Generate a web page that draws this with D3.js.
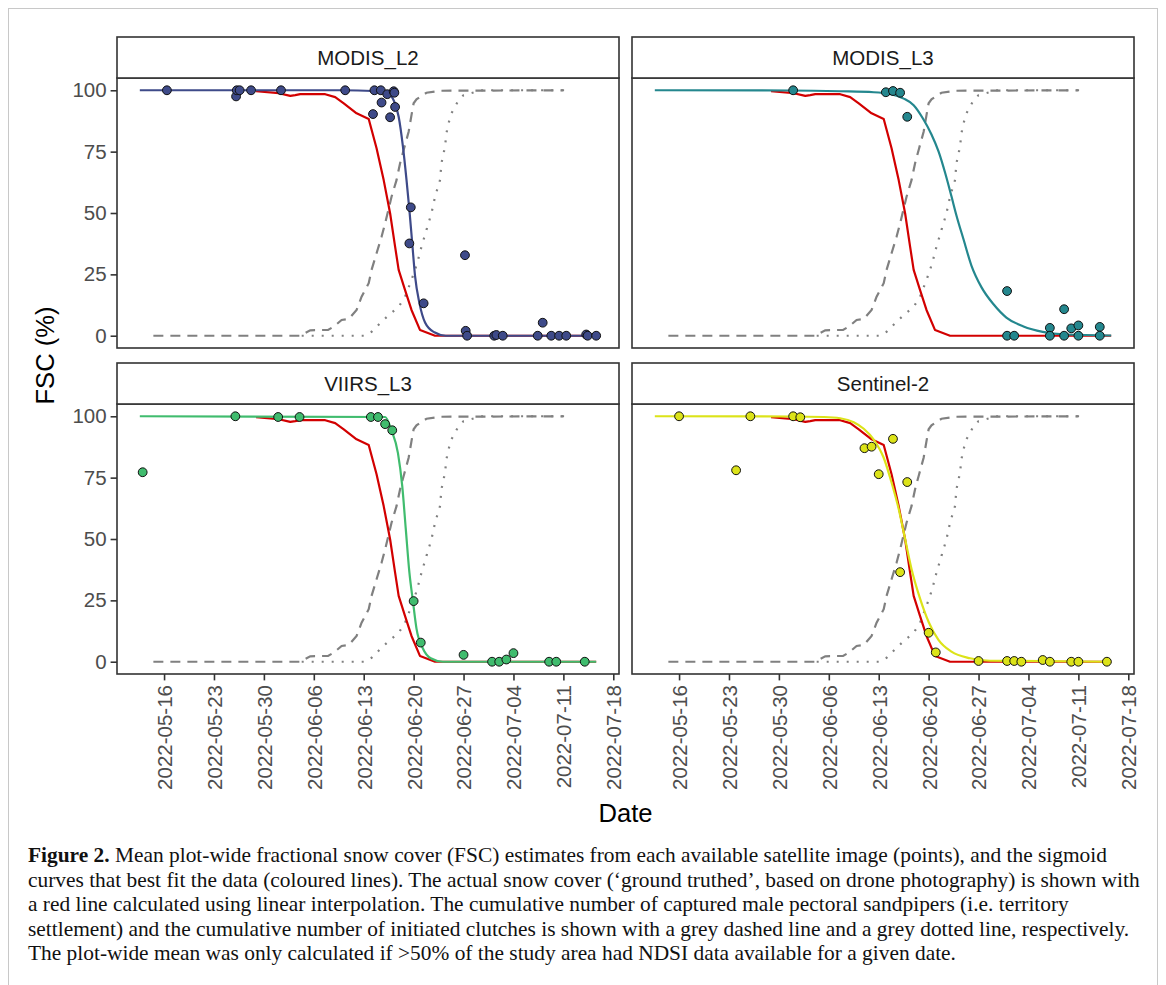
<!DOCTYPE html>
<html>
<head>
<meta charset="utf-8">
<script src="https://cdn.jsdelivr.net/npm/d3@7"></script>
<style>
  body { margin: 0; background: #fff; }
  svg { display: block; }
</style>
</head>
<body>
<svg id="chart" width="1166" height="985"></svg>
<script>
// All x values are days after 2022-05-16 (MODIS_L2 swaths carry a time of day), y values are FSC (%)
const baseDay = Date.UTC(2022, 4, 16);

const panelNames = ['MODIS_L2', 'MODIS_L3', 'VIIRS_L3', 'Sentinel-2'];
const panelColors = ['#3E4A89', '#24878E', '#40BC6E', '#DCE319'];

// satellite estimates [day, FSC]
const modisL2Points = [[0.4, 100], [10.1, 97.5], [10.2, 100], [10.6, 100], [12.2, 100], [16.4, 100], [25.4, 100],
  [29.3, 90.3], [29.5, 100], [30.4, 100], [30.5, 95], [31.3, 98.4], [31.7, 89], [32.2, 99.6], [32.3, 99],
  [32.4, 93.2], [34.4, 37.6], [34.6, 52.3], [36.4, 13.2], [42.2, 32.8], [42.3, 2], [42.5, 0], [46.3, 0],
  [46.6, 0.3], [47.5, 0], [52.4, 0], [53.1, 5.3], [54.3, 0], [55.4, 0], [56.4, 0], [59.2, 0.5], [59.4, 0], [60.6, 0]];
const modisL3Points = [[16, 100], [29, 99.2], [30, 99.7], [31, 99], [32, 89.2], [46, 18.2], [46, 0], [47, 0],
  [52, 3.2], [52, 0], [54, 10.8], [54, 0], [55, 3], [56, 4.2], [56, 0], [59, 3.6], [59, 0]];
const viirsL3Points = [[-3, 77.2], [10, 100], [16, 99.7], [19, 99.7], [29, 99.7], [30, 99.7], [31, 96.8], [32, 94.3],
  [35, 24.7], [36, 7.8], [42, 2.8], [46, 0], [47, 0], [48, 0.9], [49, 3.5], [54, 0], [55, 0], [59, 0]];
const sentinel2Points = [[0, 100], [8, 78], [10, 100], [16, 100], [17, 99.6], [26, 87], [27, 87.6], [28, 76.4],
  [30, 90.8], [31, 36.5], [32, 73.2], [35, 11.8], [36, 3.8], [42, 0.3], [46, 0.3], [47, 0.3], [48, 0],
  [51, 0.7], [52, 0], [55, 0], [56, 0], [60, 0]];

// best-fit sigmoid curves [day, FSC]
const modisL2Fit = [[-3.4, 100], [25.1, 100], [29.3, 99.7], [31.4, 98.6], [32.3, 95.3], [32.9, 89.2], [33.5, 77],
  [34.0, 63.5], [34.4, 51.4], [34.8, 37.8], [35.2, 24.3], [35.8, 13.5], [36.6, 5.4], [37.9, 1.4], [39.5, 0], [60.6, 0]];
const modisL3Fit = [[-3.4, 100], [15.6, 99.9], [22.6, 99.6], [27.3, 99.2], [29.6, 98.4], [31.5, 96.6], [32.9, 93.9],
  [34.2, 88.5], [35.4, 82], [36.4, 75], [37.3, 66.5], [38.2, 56.8], [38.9, 49], [39.9, 39.2], [41.0, 28.6],
  [42.4, 19.8], [44.1, 12.8], [45.9, 7.4], [48.3, 3.8], [51.0, 1.6], [54.3, 0.5], [60.6, 0.1]];
const viirsL3Fit = [[-3.4, 100], [31.0, 99.7], [31.9, 94.3], [32.8, 85], [33.4, 71.6], [33.9, 54], [34.4, 36.5],
  [34.9, 24.7], [35.4, 13.5], [36.3, 5.4], [37.4, 1.4], [39.1, 0], [60.6, 0]];
const sentinel2Fit = [[-3.4, 100], [15.6, 99.9], [20.3, 99.7], [22.6, 99.2], [24.5, 97.6], [25.9, 94.9], [27.3, 90.5],
  [28.7, 83.1], [29.8, 73], [30.8, 62.2], [31.7, 50], [32.6, 37.8], [33.8, 25.7], [35.0, 16.2], [36.4, 8.8],
  [38.2, 4.1], [40.8, 1.4], [43.6, 0.4], [60.6, 0]];

// drone ground truth (linear interpolation) [day, FSC]
const groundTruth = [[12.9, 99.6], [16.1, 98.8], [17.7, 97.7], [18.4, 98.0], [19.1, 98.4], [22.6, 98.4], [24.0, 97.2],
  [25.2, 94.7], [27.0, 90.6], [28.7, 88.3], [29.8, 76.4], [30.8, 63.4], [31.7, 49.9], [32.4, 36.3], [32.9, 26.8],
  [33.8, 18.6], [34.7, 10.5], [35.9, 2.3], [38.0, 0], [60.6, 0]];

// cumulative captured males (dashed) and initiated clutches (dotted), scaled 0-100 [day, %]
const malesCaptured = [[-1.5, 0], [19.0, 0], [19.5, 0.7], [20.5, 2.2], [23.0, 2.4], [23.8, 3.7], [24.9, 6.4],
  [25.9, 6.8], [27.0, 10.5], [27.7, 15.9], [28.7, 21.4], [29.1, 26.8], [29.8, 33.6], [30.5, 40.3], [31.0, 45.8],
  [31.9, 56.6], [32.6, 63.4], [33.1, 70.3], [33.6, 75.7], [34.3, 83.1], [34.7, 89.9], [35.0, 94.7], [35.4, 96.3],
  [36.8, 99], [38.9, 99.8], [56.1, 100]];
const clutchesInitiated = [[19.3, 0], [28.2, 0], [29.1, 1.6], [30.3, 5.1], [31.5, 8.4], [32.9, 11.8], [33.8, 15.9],
  [34.7, 22.7], [35.5, 29.5], [36.1, 36.3], [36.8, 43.1], [37.5, 49.9], [38.0, 56.6], [38.7, 63.4], [38.9, 70.3],
  [39.4, 77], [39.6, 82.5], [39.9, 86.6], [40.3, 90.6], [41.3, 96], [42.0, 98], [43.7, 99.3], [44.2, 100], [56.1, 100]];

const yTicks = [0, 25, 50, 75, 100];

const captionLines = [
  ['Figure 2.', ' Mean plot-wide fractional snow cover (FSC) estimates from each available satellite image (points), and the sigmoid'],
  ['', 'curves that best fit the data (coloured lines). The actual snow cover (\u2018ground truthed\u2019, based on drone photography) is shown with'],
  ['', 'a red line calculated using linear interpolation. The cumulative number of captured male pectoral sandpipers (i.e. territory'],
  ['', 'settlement) and the cumulative number of initiated clutches is shown with a grey dashed line and a grey dotted line, respectively.'],
  ['', 'The plot-wide mean was only calculated if >50% of the study area had NDSI data available for a given date.']
];

const pointSets = [modisL2Points, modisL3Points, viirsL3Points, sentinel2Points];
const fitSets = [modisL2Fit, modisL3Fit, viirsL3Fit, sentinel2Fit];

const toDate = d => new Date(baseDay + d * 864e5);

const svg = d3.select('#chart');
const sans = '"Liberation Sans", Arial, sans-serif';

// outer frame of the figure
svg.append('rect')
  .attr('x', 8.5).attr('y', 8.5)
  .attr('width', 1149).attr('height', 1000)
  .attr('fill', 'none').attr('stroke', '#c8c8c8').attr('stroke-width', 1);

const colX = [117, 632];
const rowY = [37, 363];
const panelW = 502;
const stripH = 41;
const panelH = 270;

// x range like ggplot: data extent + 5% each side
const allX = [].concat(...pointSets, ...fitSets, groundTruth, malesCaptured, clutchesInitiated).map(d => d[0]);
const [xMin, xMax] = d3.extent(allX);
const pad = (xMax - xMin) * 0.05;

const x = d3.scaleUtc()
  .domain([toDate(xMin - pad), toDate(xMax + pad)])
  .range([0, panelW]);
const y = d3.scaleLinear()
  .domain([-5, 105])
  .range([panelH, 0]);

const line = d3.line()
  .x(d => x(toDate(d[0])))
  .y(d => y(d[1]));
const smooth = d3.line()
  .x(d => x(toDate(d[0])))
  .y(d => y(d[1]))
  .curve(d3.curveMonotoneX);

panelNames.forEach((name, i) => {
  const col = i % 2, row = Math.floor(i / 2);
  const g = svg.append('g')
    .attr('transform', `translate(${colX[col]},${rowY[row] + stripH})`);

  // strip
  svg.append('rect')
    .attr('x', colX[col]).attr('y', rowY[row])
    .attr('width', panelW).attr('height', stripH)
    .attr('fill', '#fff').attr('stroke', '#333').attr('stroke-width', 1.6);
  svg.append('text')
    .attr('x', colX[col] + panelW / 2).attr('y', rowY[row] + stripH / 2)
    .attr('dy', '0.36em')
    .attr('text-anchor', 'middle')
    .attr('font-family', sans).attr('font-size', 20.5)
    .attr('fill', '#1a1a1a')
    .text(name);

  g.append('path').datum(malesCaptured)
    .attr('d', line).attr('fill', 'none')
    .attr('stroke', '#808080').attr('stroke-width', 2.2)
    .attr('stroke-dasharray', '10,7');
  g.append('path').datum(clutchesInitiated)
    .attr('d', line).attr('fill', 'none')
    .attr('stroke', '#808080').attr('stroke-width', 2.2)
    .attr('stroke-dasharray', '2,8');
  g.append('path').datum(groundTruth)
    .attr('d', line).attr('fill', 'none')
    .attr('stroke', '#D20000').attr('stroke-width', 2.2)
    .attr('stroke-linejoin', 'round');
  g.append('path').datum(fitSets[i])
    .attr('d', smooth).attr('fill', 'none')
    .attr('stroke', panelColors[i]).attr('stroke-width', 2.2);

  g.append('g').selectAll('circle')
    .data(pointSets[i])
    .join('circle')
    .attr('cx', d => x(toDate(d[0])))
    .attr('cy', d => y(d[1]))
    .attr('r', 4.4)
    .attr('fill', panelColors[i])
    .attr('stroke', '#111').attr('stroke-width', 1);

  // panel border on top
  g.append('rect')
    .attr('width', panelW).attr('height', panelH)
    .attr('fill', 'none').attr('stroke', '#333').attr('stroke-width', 1.6);

  if (col === 0) {
    const ya = g.append('g')
      .call(d3.axisLeft(y).tickValues(yTicks).tickSize(6.4).tickPadding(4));
    ya.select('.domain').remove();
    ya.selectAll('line').attr('stroke', '#333').attr('stroke-width', 1.6);
    ya.selectAll('text').attr('font-family', sans).attr('font-size', 20.5).attr('fill', '#4d4d4d');
  }
  if (row === 1) {
    const xa = g.append('g')
      .attr('transform', `translate(0,${panelH})`)
      .call(d3.axisBottom(x).ticks(d3.utcMonday.every(1)).tickFormat(d3.utcFormat('%Y-%m-%d')).tickSize(6.4));
    xa.select('.domain').remove();
    xa.selectAll('line').attr('stroke', '#333').attr('stroke-width', 1.6);
    xa.selectAll('text')
      .attr('transform', 'rotate(-90)')
      .attr('text-anchor', 'end')
      .attr('x', -11).attr('y', 0).attr('dy', '0.36em')
      .attr('font-family', sans).attr('font-size', 20.5).attr('fill', '#4d4d4d');
  }
});

// axis titles
svg.append('text')
  .attr('x', (colX[0] + colX[1] + panelW) / 2).attr('y', 822)
  .attr('text-anchor', 'middle')
  .attr('font-family', sans).attr('font-size', 25.6).attr('fill', '#000')
  .text('Date');
svg.append('text')
  .attr('transform', `translate(54,${(rowY[0] + rowY[1] + stripH + panelH) / 2}) rotate(-90)`)
  .attr('text-anchor', 'middle')
  .attr('font-family', sans).attr('font-size', 25.6).attr('fill', '#000')
  .text('FSC (%)');

// caption
const cap = svg.append('g')
  .attr('font-family', '"Liberation Serif", "Times New Roman", serif')
  .attr('font-size', 21.4).attr('fill', '#111');
captionLines.forEach((ln, i) => {
  const t = cap.append('text').attr('x', 28).attr('y', 862 + i * 24.6);
  if (ln[0]) t.append('tspan').attr('font-weight', 'bold').text(ln[0]);
  t.append('tspan').text(ln[1]);
});
</script>
</body>
</html>
